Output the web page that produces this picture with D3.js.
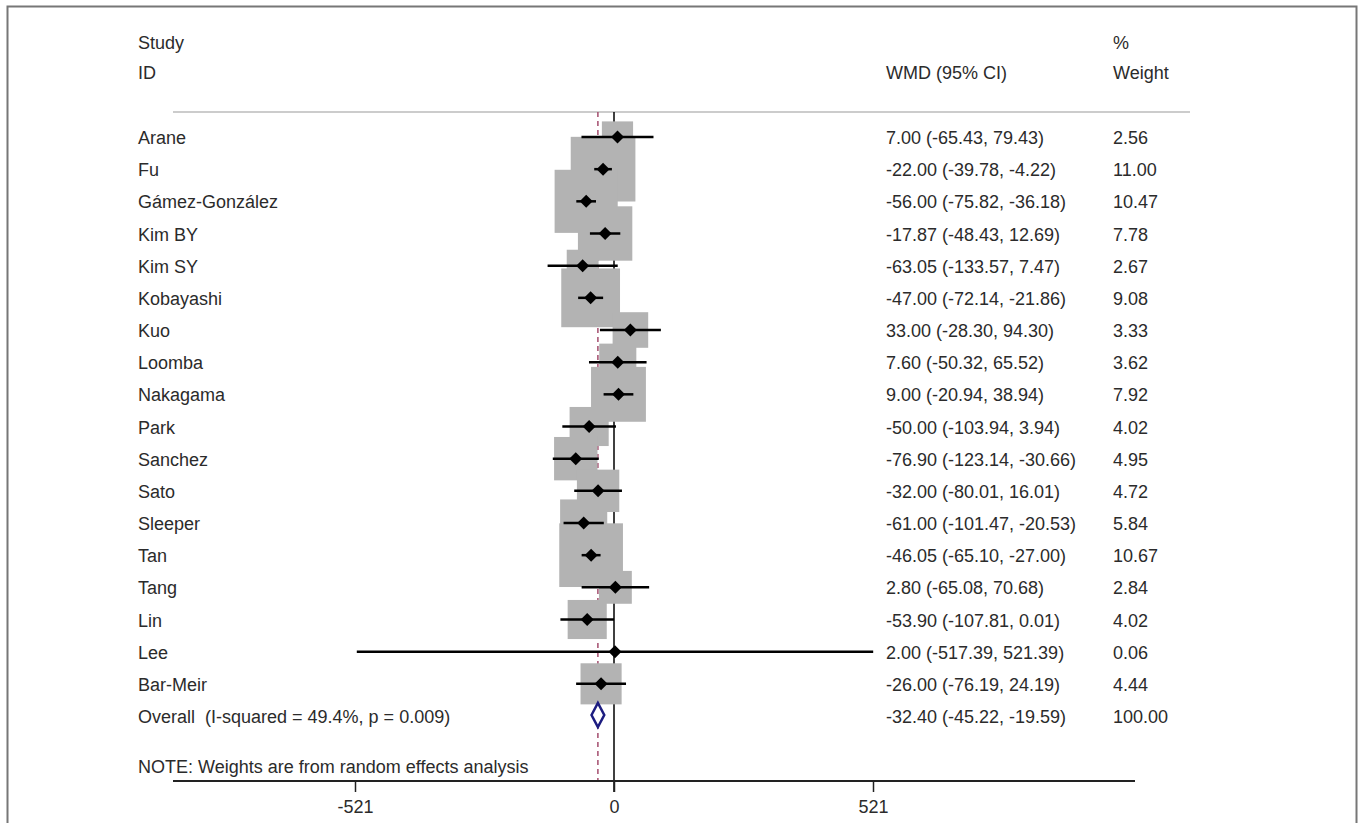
<!DOCTYPE html>
<meta charset="utf-8">
<script src="https://d3js.org/d3.v7.min.js"></script>
<style>
  body { margin: 0; background: #fff; }
  text { font-family: "Liberation Sans", Arial, sans-serif; font-size: 18px; fill: #2b2b2b; white-space: pre; }
</style>
<body>
<div id="chart"></div>
<script>
// study data
var studies = ["Arane", "Fu", "Gámez-González", "Kim BY", "Kim SY", "Kobayashi", "Kuo", "Loomba",
  "Nakagama", "Park", "Sanchez", "Sato", "Sleeper", "Tan", "Tang", "Lin", "Lee", "Bar-Meir"];
var wmd = [7.00, -22.00, -56.00, -17.87, -63.05, -47.00, 33.00, 7.60, 9.00, -50.00, -76.90, -32.00,
  -61.00, -46.05, 2.80, -53.90, 2.00, -26.00];
var lower = [-65.43, -39.78, -75.82, -48.43, -133.57, -72.14, -28.30, -50.32, -20.94, -103.94, -123.14,
  -80.01, -101.47, -65.10, -65.08, -107.81, -517.39, -76.19];
var upper = [79.43, -4.22, -36.18, 12.69, 7.47, -21.86, 94.30, 65.52, 38.94, 3.94, -30.66, 16.01,
  -20.53, -27.00, 70.68, 0.01, 521.39, 24.19];
var weights = [2.56, 11.00, 10.47, 7.78, 2.67, 9.08, 3.33, 3.62, 7.92, 4.02, 4.95, 4.72, 5.84, 10.67,
  2.84, 4.02, 0.06, 4.44];
var overall = { label: "Overall  (I-squared = 49.4%, p = 0.009)", est: -32.40, lo: -45.22, hi: -19.59, w: 100.00 };
var xTicks = [-521, 0, 521];
var note = "NOTE: Weights are from random effects analysis";

var width = 1362, height = 823;
var svg = d3.select("#chart").append("svg")
  .attr("width", width)
  .attr("height", height);

// outer frame
svg.append("rect")
  .attr("x", 7.5).attr("y", 6.5)
  .attr("width", 1349).attr("height", 840)
  .attr("fill", "none")
  .attr("stroke", "#777")
  .attr("stroke-width", 2);

var x = d3.scaleLinear().domain([-521, 521]).range([355, 873]);
var rows = d3.range(studies.length + 1);
var y = d3.scalePoint().domain(rows).range([137, 716]);
var boxSize = function (w) { return 19.5 * Math.sqrt(w); };

var data = studies.map(function (s, i) {
  return { name: s, est: wmd[i], lo: lower[i], hi: upper[i], w: weights[i], row: i };
});

// plain hyphen for negatives, like the original
var f2 = d3.format(".2f");
var fmt = function (v) { return f2(v).replace("\u2212", "-"); };
var textX = 138, ciX = 886, wX = 1113;
var topLine = 112, axisY = 781;

// header
svg.append("text").attr("x", textX).attr("y", 49).text("Study");
svg.append("text").attr("x", textX).attr("y", 79).text("ID");
svg.append("text").attr("x", wX).attr("y", 49).text("%");
svg.append("text").attr("x", ciX).attr("y", 79).text("WMD (95% CI)");
svg.append("text").attr("x", wX).attr("y", 79).text("Weight");

svg.append("line")
  .attr("x1", 173).attr("x2", 1190)
  .attr("y1", topLine).attr("y2", topLine)
  .attr("stroke", "#ccc").attr("stroke-width", 2);

// zero line and overall dashed line
svg.append("line")
  .attr("x1", x(0)).attr("x2", x(0))
  .attr("y1", topLine).attr("y2", axisY + 11)
  .attr("stroke", "#000").attr("stroke-width", 1.5);

svg.append("line")
  .attr("x1", x(overall.est)).attr("x2", x(overall.est))
  .attr("y1", topLine).attr("y2", axisY)
  .attr("stroke", "#a44d6e").attr("stroke-width", 1.5)
  .attr("stroke-dasharray", "5,4");

// weight boxes
svg.append("g").selectAll("rect")
  .data(data)
  .enter()
  .append("rect")
  .attr("x", function (d) { return x(d.est) - boxSize(d.w) / 2; })
  .attr("y", function (d) { return y(d.row) - boxSize(d.w) / 2; })
  .attr("width", function (d) { return boxSize(d.w); })
  .attr("height", function (d) { return boxSize(d.w); })
  .attr("fill", "#b3b3b3");

// confidence intervals
svg.append("g").selectAll("line")
  .data(data)
  .enter()
  .append("line")
  .attr("x1", function (d) { return x(d.lo); })
  .attr("x2", function (d) { return x(d.hi); })
  .attr("y1", function (d) { return y(d.row); })
  .attr("y2", function (d) { return y(d.row); })
  .attr("stroke", "#000").attr("stroke-width", 2.5);

// point estimates
svg.append("g").selectAll("path")
  .data(data)
  .enter()
  .append("path")
  .attr("d", function (d) {
    var cx = x(d.est), cy = y(d.row), r = 6.5;
    return "M" + (cx - r) + "," + cy + "L" + cx + "," + (cy - r) + "L" + (cx + r) + "," + cy + "L" + cx + "," + (cy + r) + "Z";
  })
  .attr("fill", "#000");

// overall diamond
var oy = y(studies.length) - 1;
svg.append("path")
  .attr("d", "M" + x(overall.lo) + "," + oy + "L" + x(overall.est) + "," + (oy - 12) +
    "L" + x(overall.hi) + "," + oy + "L" + x(overall.est) + "," + (oy + 12) + "Z")
  .attr("fill", "#fff")
  .attr("stroke", "#1c1c80")
  .attr("stroke-width", 2.5);

// text columns
var all = data.concat([{ name: overall.label, est: overall.est, lo: overall.lo, hi: overall.hi, w: overall.w, row: studies.length }]);
var labels = svg.append("g");
all.forEach(function (d) {
  var ty = y(d.row) + 7;
  labels.append("text").attr("x", textX).attr("y", ty).text(d.name);
  labels.append("text").attr("x", ciX).attr("y", ty)
    .text(fmt(d.est) + " (" + fmt(d.lo) + ", " + fmt(d.hi) + ")");
  labels.append("text").attr("x", wX).attr("y", ty).text(fmt(d.w));
});

svg.append("text").attr("x", textX).attr("y", 773).text(note);

// x axis
svg.append("line")
  .attr("x1", 173).attr("x2", 1135)
  .attr("y1", axisY).attr("y2", axisY)
  .attr("stroke", "#222").attr("stroke-width", 2);

var axis = d3.axisBottom(x).tickValues(xTicks).tickSize(11).tickPadding(8)
  .tickFormat(function (v) { return String(v); });
var ax = svg.append("g").attr("transform", "translate(0," + axisY + ")").call(axis);
ax.select(".domain").remove();
ax.selectAll(".tick line").attr("stroke", "#222").attr("stroke-width", 1.5);
ax.selectAll(".tick text")
  .style("font-family", "'Liberation Sans', Arial, sans-serif")
  .style("font-size", "18px")
  .attr("fill", "#2b2b2b");
</script>
</body>
